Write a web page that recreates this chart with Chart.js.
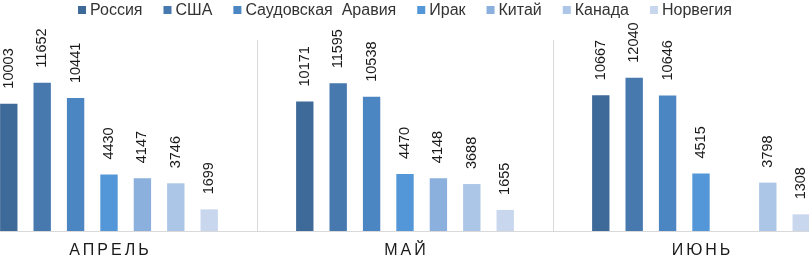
<!DOCTYPE html>
<html>
<head>
<meta charset="utf-8">
<script src="https://cdn.jsdelivr.net/npm/chart.js@4"></script>
<style>
  html, body { margin: 0; padding: 0; background: #fff; overflow: hidden; }
  #wrap { position: absolute; left: -39px; top: 0; width: 888px; height: 257px; }
</style>
</head>
<body>
<div id="wrap"><canvas id="oilChart" width="888" height="257"></canvas></div>
<script>
// months and countries
const months = ['АПРЕЛЬ', 'МАЙ', 'ИЮНЬ'];
const countries = ['Россия', 'США', 'Саудовская  Аравия', 'Ирак', 'Китай', 'Канада', 'Норвегия'];
const colors = ['#3e6a99', '#4778ae', '#4c86c2', '#5497d8', '#8bb0dd', '#abc6e7', '#c8d7ed'];

// values per country: April, May, June
const russia = [10003, 10171, 10667];
const usa = [11652, 11595, 12040];
const saudi = [10441, 10538, 10646];
const iraq = [4430, 4470, 4515];
const china = [4147, 4148, null];
const canada = [3746, 3688, 3798];
const norway = [1699, 1655, 1308];

const seriesValues = [russia, usa, saudi, iraq, china, canada, norway];

const FONT = '"Liberation Sans", Arial, sans-serif';

// value labels, rotated, above each bar
const valueLabels = {
  id: 'valueLabels',
  afterDatasetsDraw(chart) {
    const ctx = chart.ctx;
    ctx.save();
    ctx.font = '14.5px ' + FONT;
    ctx.fillStyle = '#1a1a1a';
    ctx.textAlign = 'left';
    ctx.textBaseline = 'middle';
    chart.data.datasets.forEach((ds, i) => {
      chart.getDatasetMeta(i).data.forEach((bar, j) => {
        const v = ds.data[j];
        if (v === null) return;
        ctx.save();
        ctx.translate(bar.x, bar.y - 15);
        ctx.rotate(-Math.PI / 2);
        ctx.fillText(String(v), 0, 0);
        ctx.restore();
      });
    });
    ctx.restore();
  }
};

// spaced month names under the axis
const monthLabels = {
  id: 'monthLabels',
  afterDraw(chart) {
    const ctx = chart.ctx;
    const xs = chart.scales.x;
    ctx.save();
    ctx.font = '16px ' + FONT;
    ctx.fillStyle = '#1a1a1a';
    ctx.textAlign = 'center';
    ctx.textBaseline = 'middle';
    ctx.letterSpacing = '3px';
    months.forEach((m, i) => {
      ctx.fillText(m, xs.getPixelForValue(i) + 1.5, 251);
    });
    ctx.restore();
  }
};

// legend row at the top
const topLegend = {
  id: 'topLegend',
  afterDraw(chart) {
    const ctx = chart.ctx;
    ctx.save();
    ctx.font = '16px ' + FONT;
    ctx.textBaseline = 'middle';
    ctx.textAlign = 'left';
    const box = 8, gapIn = 4, gapOut = 21;
    const widths = countries.map(c => ctx.measureText(c).width);
    let total = 0;
    widths.forEach((w, i) => { total += box + gapIn + w + (i < widths.length - 1 ? gapOut : 0); });
    let x = chart.width / 2 - total / 2;
    const y = 10;
    countries.forEach((c, i) => {
      ctx.fillStyle = colors[i];
      ctx.fillRect(x, y - box / 2, box, box);
      ctx.fillStyle = '#333333';
      ctx.fillText(c, x + box + gapIn, y + 0.5);
      x += box + gapIn + widths[i] + gapOut;
    });
    ctx.restore();
  }
};

const ctx = document.getElementById('oilChart').getContext('2d');
new Chart(ctx, {
  type: 'bar',
  data: {
    labels: months,
    datasets: countries.map((c, i) => ({
      label: c,
      data: seriesValues[i],
      backgroundColor: colors[i],
      borderWidth: 0,
      categoryPercentage: 0.79,
      barPercentage: 0.52
    }))
  },
  options: {
    responsive: false,
    animation: false,
    devicePixelRatio: 1,
    layout: { padding: { top: 40, bottom: 26, left: 0, right: 0 } },
    plugins: {
      legend: { display: false },
      tooltip: { enabled: false }
    },
    scales: {
      x: {
        grid: { offset: true, color: '#d9d9d9', lineWidth: 1, drawTicks: false },
        border: { display: true, color: '#d9d9d9', width: 1 },
        ticks: { display: false }
      },
      y: {
        display: false,
        min: 0,
        max: 15000
      }
    }
  },
  plugins: [valueLabels, monthLabels, topLegend]
});
</script>
</body>
</html>
